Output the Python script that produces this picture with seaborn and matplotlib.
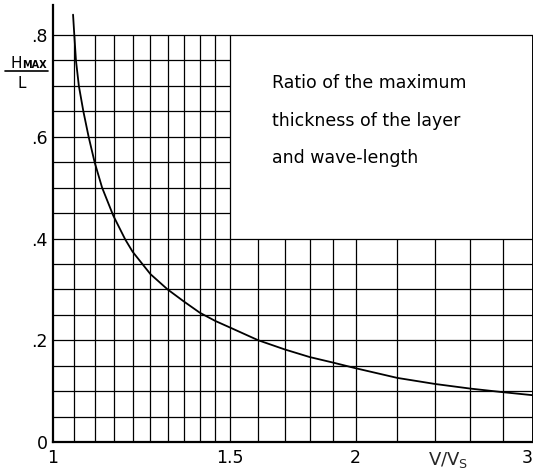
import numpy as np
import matplotlib.pyplot as plt
from matplotlib.lines import Line2D
from matplotlib.ticker import NullLocator
import seaborn as sns

# curve: V/Vs vs Hmax/L
ratio_v = [1.047, 1.05, 1.054, 1.061, 1.072, 1.085, 1.10, 1.119, 1.148, 1.18,
           1.2, 1.25, 1.3, 1.35, 1.4, 1.45, 1.5,
           1.6, 1.7, 1.8, 1.9, 2.0, 2.2, 2.4, 2.6, 2.8, 3.0]
hmax_l = [0.84, 0.80, 0.75, 0.70, 0.65, 0.60, 0.55, 0.50, 0.445, 0.398,
          0.374, 0.330, 0.300, 0.276, 0.254, 0.238, 0.225,
          0.200, 0.182, 0.167, 0.156, 0.145, 0.126, 0.114, 0.105, 0.098, 0.092]

x_ticks = [1, 1.5, 2, 3]
x_ticklabels = ["1", "1.5", "2", "3"]
y_ticks = [0, 0.2, 0.4, 0.6, 0.8]
y_ticklabels = ["0", ".2", ".4", ".6", ".8"]

# graph paper rulings
x_grid_left = [1.05, 1.1, 1.15, 1.2, 1.25, 1.3, 1.35, 1.4, 1.45]
x_grid_right = [1.6, 1.7, 1.8, 1.9, 2.0, 2.2, 2.4, 2.6, 2.8]
y_grid_low = [0.05, 0.1, 0.15, 0.2, 0.25, 0.3, 0.35, 0.4]
y_grid_high = [0.45, 0.5, 0.55, 0.6, 0.65, 0.7, 0.75]

note = ["Ratio of the maximum", "thickness of the layer", "and wave-length"]

sns.set_style("white")
plt.rcParams['font.family'] = ['DejaVu Sans']
plt.rcParams['text.color'] = 'black'

fig = plt.figure(figsize=(5.33, 4.69), dpi=100)
ax = fig.add_axes([53 / 533, 27 / 469, 0.9, 437 / 469])

ax.set_xscale('log')
ax.set_xlim(1, 3)
ax.set_ylim(0, 0.859)

gl = dict(color='black', lw=0.9, zorder=1)
ax.vlines(x_grid_left, 0, 0.8, **gl)
ax.vlines(x_grid_right, 0, 0.4, **gl)
ax.vlines([1.5], 0, 0.8, **gl)
ax.vlines([3.0], 0, 0.8, color='black', lw=1.4, zorder=1, clip_on=False)
ax.hlines(y_grid_low, 1, 3, **gl)
ax.hlines(y_grid_high, 1, 1.5, **gl)
ax.hlines([0.8], 1, 3, **gl)

sns.lineplot(x=ratio_v, y=hmax_l, ax=ax, color='black', lw=1.3,
             estimator=None, sort=False, zorder=3)

for i, line in enumerate(note):
    ax.text(1.652, 0.696 - i * 0.074, line, fontsize=12.5, va='baseline', ha='left')

for s in ['top', 'right']:
    ax.spines[s].set_visible(False)
for s in ['left', 'bottom']:
    ax.spines[s].set_linewidth(1.6)
    ax.spines[s].set_color('black')

ax.xaxis.set_minor_locator(NullLocator())
ax.set_xticks(x_ticks)
ax.set_xticklabels(x_ticklabels)
ax.set_yticks(y_ticks)
ax.set_yticklabels(y_ticklabels)
ax.tick_params(axis='both', length=0, labelsize=12.5, colors='black')
ax.tick_params(axis='x', pad=5)
ax.tick_params(axis='y', pad=4)
ax.get_xticklabels()[-1].set_ha('right')

ax.set_xlabel("V/V$_\\mathregular{S}$", fontsize=13)
ax.xaxis.set_label_coords(0.823, -0.018)
ax.xaxis.label.set_va('top')

# y label as a hand-lettered fraction
fig.text(10 / 533, 1 - 68 / 469, "H", fontsize=11, va='baseline')
fig.text(22 / 533, 1 - 68 / 469, "MAX", fontsize=7, va='baseline', fontweight='bold')
fig.add_artist(Line2D([5 / 533, 48 / 533], [1 - 71 / 469] * 2, color='black', lw=1.2))
fig.text(22 / 533, 1 - 88 / 469, "L", fontsize=11, va='baseline', ha='center')

fig.savefig("out.png", dpi=100)
